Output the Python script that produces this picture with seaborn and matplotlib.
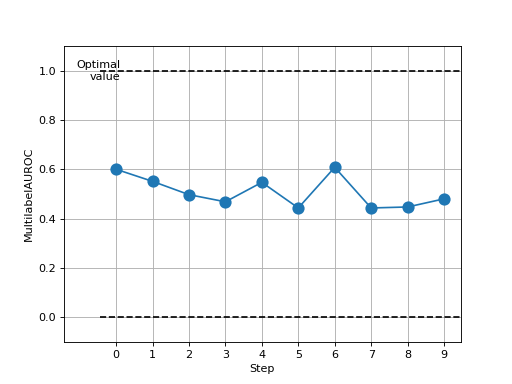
import matplotlib
matplotlib.use("Agg")
import matplotlib.pyplot as plt
import seaborn as sns
import pandas as pd

steps = [0, 1, 2, 3, 4, 5, 6, 7, 8, 9]
auroc = [0.600, 0.551, 0.497, 0.468, 0.547, 0.443, 0.608, 0.443, 0.447, 0.480]
optimal = 1.0
baseline = 0.0

df = pd.DataFrame({"Step": steps, "MultilabelAUROC": auroc})

fig, ax = plt.subplots(figsize=(6.4, 4.8), dpi=80)
sns.lineplot(data=df, x="Step", y="MultilabelAUROC", marker="o", markersize=11,
             markeredgewidth=0, color="#1f77b4", ax=ax)
ax.hlines([optimal, baseline], -0.45, 9.6, colors="black", linestyles="--", linewidth=1.5)
ax.text(-0.48, optimal, "Optimal\nvalue", ha="center", va="center",
        multialignment="right", fontsize=10)
ax.set_xlim(-1.43, 9.46)
ax.set_ylim(-0.1, 1.1)
ax.set_xticks(steps)
ax.grid(True)
fig.savefig("out.png", dpi=80)
